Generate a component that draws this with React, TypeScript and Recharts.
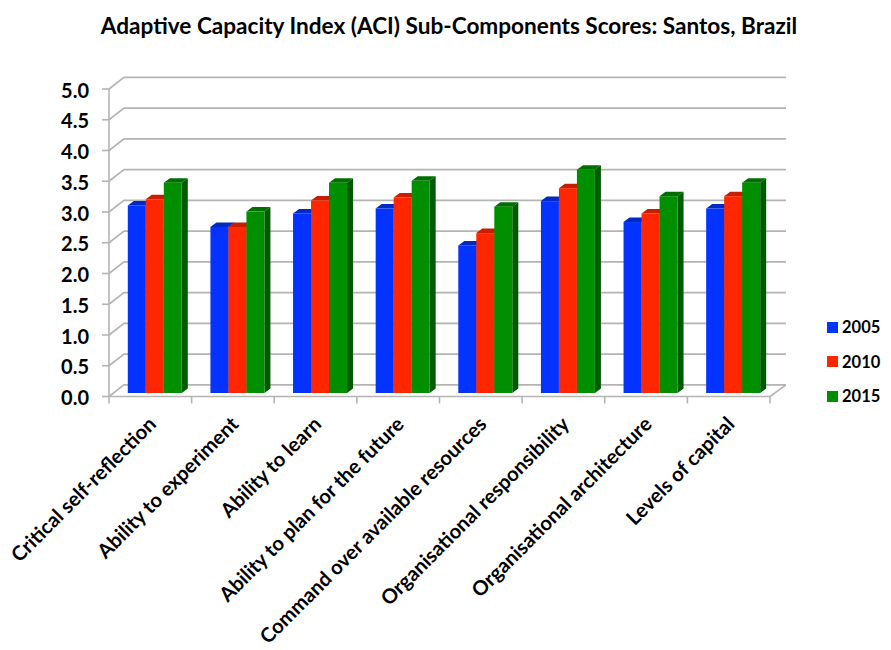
import { BarChart, Bar, XAxis, YAxis, CartesianGrid, Legend } from 'recharts';

const categories = [
  'Critical self-reflection',
  'Ability to experiment',
  'Ability to learn',
  'Ability to plan for the future',
  'Command over available resources',
  'Organisational responsibility',
  'Organisational architecture',
  'Levels of capital',
];
const scores2005 = [3.05, 2.7, 2.92, 3.0, 2.4, 3.12, 2.78, 3.0];
const scores2010 = [3.15, 2.7, 3.13, 3.18, 2.6, 3.33, 2.92, 3.2];
const scores2015 = [3.42, 2.95, 3.42, 3.45, 3.03, 3.63, 3.2, 3.42];
const yTicks = [0, 0.5, 1, 1.5, 2, 2.5, 3, 3.5, 4, 4.5, 5];

const data = categories.map((name, i) => ({
  name,
  y2005: scores2005[i],
  y2010: scores2010[i],
  y2015: scores2015[i],
}));

const FONT = 'Lato, sans-serif';
const GRID = '#b4b4b4';
const STEP = 661 / categories.length;

// fake 3D look of the original: front face + top + side
const bar3d = (front: string, top: string, side: string) => (props: any) => {
  const { x, y, width, height } = props;
  const fx = x + 5;
  const fy = y - 3.5;
  const d = 6;
  const r = 4.5;
  return (
    <g>
      <polygon points={`${fx},${fy} ${fx + d},${fy - r} ${fx + width + d},${fy - r} ${fx + width},${fy}`} fill={top} />
      <polygon points={`${fx + width},${fy} ${fx + width + d},${fy - r} ${fx + width + d},${fy + height - r} ${fx + width},${fy + height}`} fill={side} />
      <rect x={fx} y={fy} width={width} height={height} fill={front} />
    </g>
  );
};

// each grid line goes along the floor/side wall and then across the back wall
const gridLine = (props: any) => {
  const { x1, x2, y1 } = props;
  const isFloor = y1 > 390;
  return (
    <g key={`grid-${y1}`} fill="none" stroke={GRID} strokeWidth={1.6}>
      <polyline points={`${x1},${y1} ${x1 + 15},${y1 - 11.6} ${x2 + 16},${y1 - 11.6}`} />
      {isFloor && <line x1={x2 + 16} y1={y1 - 11.6} x2={x2} y2={y1} />}
    </g>
  );
};

const CategoryTick = (props: any) => {
  const { x, y, payload, index } = props;
  return (
    <g>
      <line x1={x - STEP / 2} y1={y - 8} x2={x - STEP / 2} y2={y - 1} stroke={GRID} strokeWidth={1.6} />
      {index === categories.length - 1 && (
        <line x1={x + STEP / 2} y1={y - 8} x2={x + STEP / 2} y2={y - 1} stroke={GRID} strokeWidth={1.6} />
      )}
      <text
        x={x + 7}
        y={y + 21}
        transform={`rotate(-45 ${x + 7} ${y + 21})`}
        textAnchor="end"
        fontFamily={FONT}
        fontWeight={700}
        fontSize={20.2}
        fill="#000"
      >
        {payload.value}
      </text>
    </g>
  );
};

const LegendBox = ({ payload }: any) => (
  <div style={{ fontFamily: FONT, fontWeight: 700, fontSize: 16.5, color: '#000' }}>
    {payload.map((p: any) => (
      <div key={p.value} style={{ display: 'flex', alignItems: 'center', height: 34.5 }}>
        <span style={{ width: 11, height: 11, background: p.color, marginRight: 4 }} />
        {p.value}
      </div>
    ))}
  </div>
);

export default function App() {
  return (
    <div style={{ position: 'absolute', left: 0, top: 0, width: 891, height: 650, overflow: 'hidden', background: '#fff' }}>
      <div
        style={{
          position: 'absolute',
          top: 12,
          left: 0,
          width: 898,
          textAlign: 'center',
          fontFamily: FONT,
          fontWeight: 700,
          fontSize: 22.6,
          color: '#000',
        }}
      >
        Adaptive Capacity Index (ACI) Sub-Components Scores: Santos, Brazil
      </div>
      <BarChart
        width={891}
        height={650}
        data={data}
        margin={{ top: 89, right: 57, bottom: 0, left: 0 }}
        barCategoryGap="16.7%"
        barGap={0}
      >
        <CartesianGrid vertical={false} horizontal={gridLine} />
        <XAxis
          dataKey="name"
          interval={0}
          height={253.5}
          axisLine={{ stroke: GRID, strokeWidth: 1.6 }}
          tickLine={false}
          tick={CategoryTick}
        />
        <YAxis
          width={109}
          domain={[0, 5]}
          ticks={yTicks}
          interval={0}
          tickFormatter={(v: number) => v.toFixed(1)}
          axisLine={{ stroke: GRID, strokeWidth: 1.6 }}
          tickLine={{ stroke: GRID, strokeWidth: 1.6 }}
          tickSize={7}
          tickMargin={13}
          tick={{ fontFamily: FONT, fontWeight: 700, fontSize: 20, fill: '#000', dy: 1.5 }}
        />
        <Legend
          layout="vertical"
          align="right"
          verticalAlign="top"
          wrapperStyle={{ left: 827, top: 310, width: 64 }}
          content={LegendBox}
        />
        <Bar dataKey="y2005" name="2005" fill="#0433ff" shape={bar3d('#0433ff', '#0329c4', '#0329c4')} isAnimationActive={false} />
        <Bar dataKey="y2010" name="2010" fill="#ff2600" shape={bar3d('#ff2600', '#c81e00', '#c81e00')} isAnimationActive={false} />
        <Bar dataKey="y2015" name="2015" fill="#008f00" shape={bar3d('#008f00', '#006f00', '#005a00')} isAnimationActive={false} />
      </BarChart>
    </div>
  );
}
